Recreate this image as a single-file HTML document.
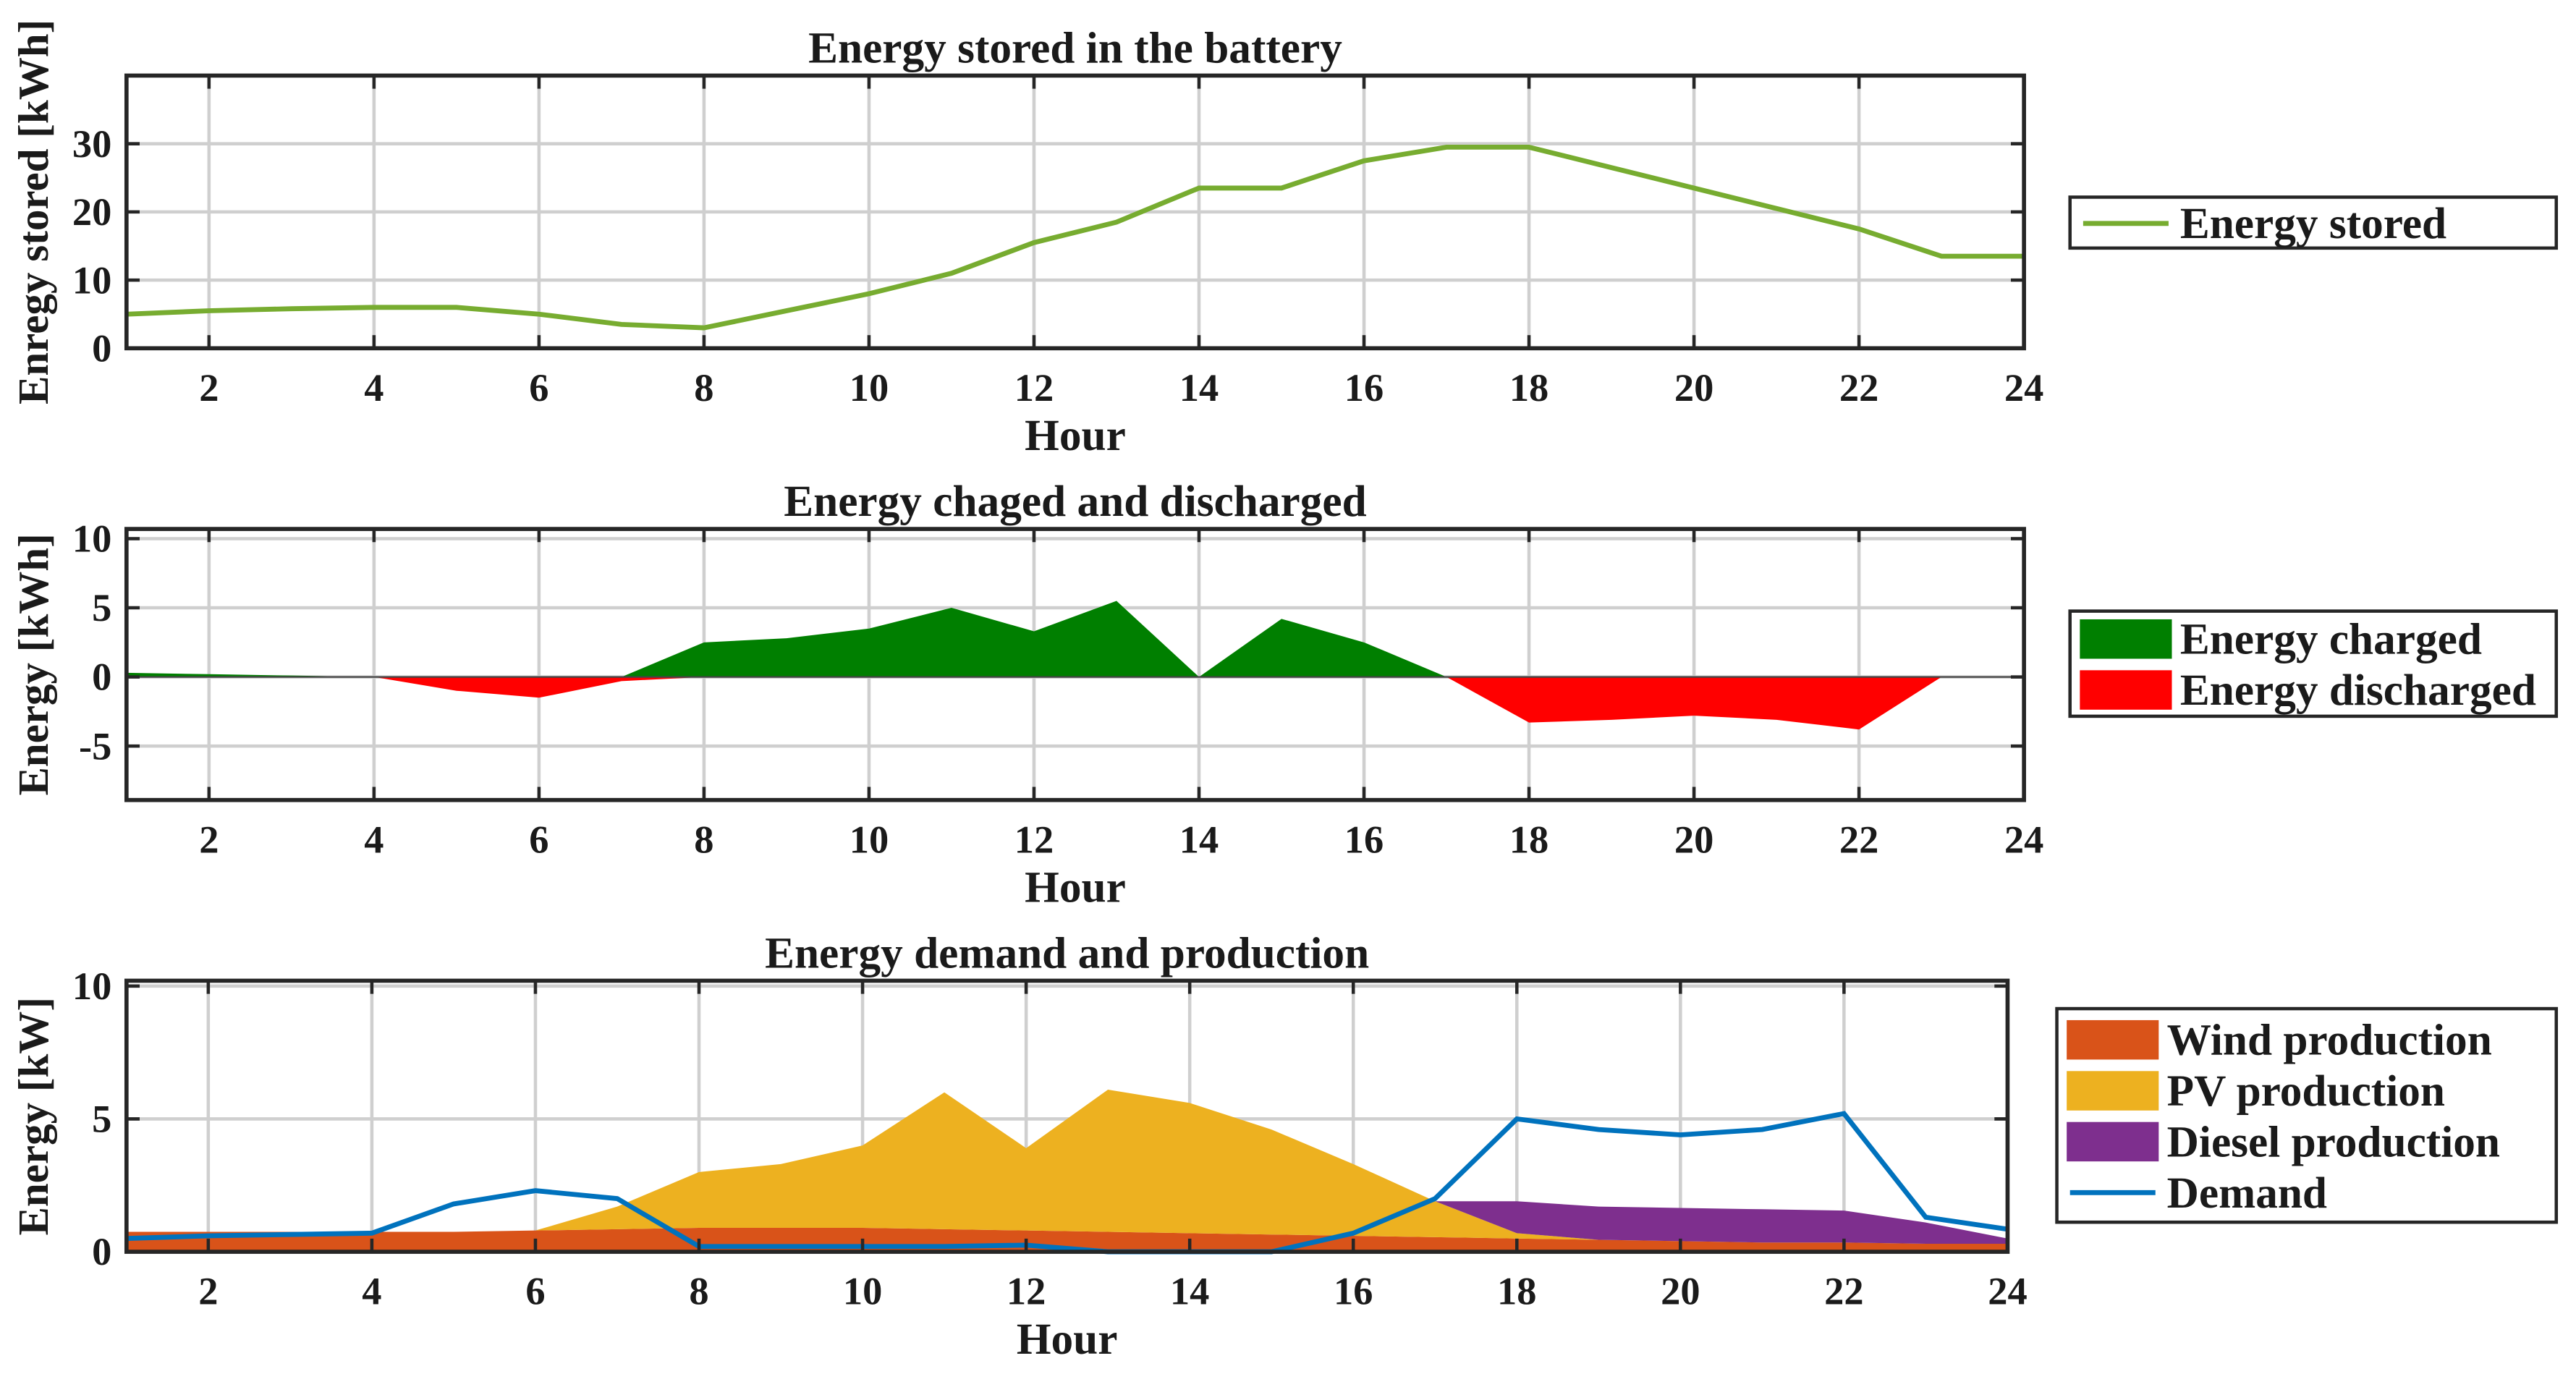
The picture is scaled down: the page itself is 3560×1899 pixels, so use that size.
<!DOCTYPE html>
<html><head><meta charset="utf-8"><style>
html,body{margin:0;padding:0;background:#fff}
svg{display:block}
text{font-family:"Liberation Serif",serif;font-weight:bold;fill:#1a1a1a}
</style></head><body>
<svg id="chart" width="3560" height="1899" viewBox="0 0 1568 836.4" xmlns="http://www.w3.org/2000/svg"></svg>
<script>
const hours = [1,2,3,4,5,6,7,8,9,10,11,12,13,14,15,16,17,18,19,20,21,22,23,24];
const storedValues = [5,5.5,5.8,6,6,5,3.5,3,5.5,8,11,15.5,18.5,23.5,23.5,27.5,29.5,29.5,26.5,23.5,20.5,17.5,13.5,13.5];
const chargedValues = [0.3,0.2,0.1,0,0,0,0,2.5,2.8,3.5,5,3.3,5.5,0,4.2,2.5,0,0,0,0,0,0,0,0];
const dischargedValues = [0,0,0,0,-1,-1.5,-0.3,0,0,0,0,0,0,0,0,0,0,-3.3,-3.1,-2.8,-3.1,-3.8,0,0];
const windValues = [0.75,0.75,0.75,0.75,0.75,0.8,0.85,0.9,0.9,0.9,0.85,0.8,0.75,0.7,0.65,0.6,0.55,0.5,0.45,0.4,0.35,0.35,0.3,0.3];
const pvValues = [0,0,0,0,0,0,0.85,2.1,2.4,3.1,5.15,3.1,5.35,4.9,3.95,2.7,1.35,0.2,0,0,0,0,0,0];
const dieselValues = [0,0,0,0,0,0,0,0,0,0,0,0,0,0,0,0,0,1.2,1.25,1.25,1.25,1.2,0.8,0.2];
const demandValues = [0.5,0.6,0.65,0.7,1.8,2.3,2.0,0.2,0.2,0.2,0.2,0.25,0,0,0,0.7,2.0,5.0,4.6,4.4,4.6,5.2,1.3,0.85];
const xTicks = [2,4,6,8,10,12,14,16,18,20,22,24];
const yTicks1 = [0,10,20,30];
const yTicks2 = [-5,0,5,10];
const yTicks3 = [0,5,10];

const svg = document.getElementById('chart');
const NS = 'http://www.w3.org/2000/svg';
function mk(tag, attrs, parent){const e=document.createElementNS(NS,tag);for(const k in attrs)e.setAttribute(k,attrs[k]);(parent||svg).appendChild(e);return e;}

function panel(p){
  const g = mk('g',{});
  
  
  const sx = v => p.x0 + (v-1)/(23)*(p.x1-p.x0);
  const sy = v => p.y1 - (v-p.ymin)/(p.ymax-p.ymin)*(p.y1-p.y0);
  xTicks.forEach(t=>{ if(t<24) mk('line',{x1:sx(t),x2:sx(t),y1:p.y0,y2:p.y1,stroke:'#cfcfcf','stroke-width':2},g);});
  p.yt.forEach(t=>{ mk('line',{x1:p.x0,x2:p.x1,y1:sy(t),y2:sy(t),stroke:'#cfcfcf','stroke-width':2},g);});
  p.draw(g,sx,sy);
  xTicks.forEach(t=>{
    mk('line',{x1:sx(t),x2:sx(t),y1:p.y1,y2:p.y1-8,stroke:'#262626','stroke-width':2},g);
    mk('line',{x1:sx(t),x2:sx(t),y1:p.y0,y2:p.y0+8,stroke:'#262626','stroke-width':2},g);
    const tx = mk('text',{x:sx(t),y:p.y1+32,'text-anchor':'middle','font-size':24},g);
    tx.textContent=t;
    
    
  });
  p.yt.forEach(t=>{
    mk('line',{x1:p.x0,x2:p.x0+8,y1:sy(t),y2:sy(t),stroke:'#262626','stroke-width':2},g);
    mk('line',{x1:p.x1,x2:p.x1-8,y1:sy(t),y2:sy(t),stroke:'#262626','stroke-width':2},g);
    const ty = mk('text',{x:p.x0-9,y:sy(t)+8,'text-anchor':'end','font-size':24},g);
    ty.textContent=t;
    
    
  });
  mk('rect',{x:p.x0,y:p.y0,width:p.x1-p.x0,height:p.y1-p.y0,fill:'none',stroke:'#262626','stroke-width':2.5},g);
  const tt = mk('text',{x:(p.x0+p.x1)/2+(p.tdx||0),y:p.y0-8,'text-anchor':'middle','font-size':27},g);
  tt.textContent=p.title;
  
  
  const xl = mk('text',{x:(p.x0+p.x1)/2,y:p.y1+62,'text-anchor':'middle','font-size':27},g);
  xl.textContent='Hour';
  
  
  const yc=(p.y0+p.y1)/2;
  const yl = mk('text',{x:0,y:0,'text-anchor':'middle','font-size':26,transform:`translate(29,${yc}) rotate(-90)`},g);
  yl.textContent=p.ylabel;
  
  
  const L=p.leg;
  const lb = mk('rect',{x:L.x,y:L.y,width:L.w,height:L.h,fill:'#fff',stroke:'#262626','stroke-width':2},g);
  
  
  L.items.forEach((it,i)=>{
    const cy=L.y+L.pad+i*L.step;
    if(it.type==='line') mk('line',{x1:L.x+8,x2:L.x+60,y1:cy,y2:cy,stroke:it.c,'stroke-width':3},g);
    else mk('rect',{x:L.x+6,y:cy-12,width:56,height:24,fill:it.c},g);
    const lt=mk('text',{x:L.x+67,y:cy+9,'font-size':27},g);
    lt.textContent=it.t;
    
    
  });
}
function areaPath(sx,sy,bottom,top){
  let d='M'+sx(hours[0])+','+sy(bottom[0]);
  hours.forEach((h,i)=>{d+=' L'+sx(h)+','+sy(top[i]);});
  for(let i=hours.length-1;i>=0;i--) d+=' L'+sx(hours[i])+','+sy(bottom[i]);
  return d+'Z';
}
function linePath(sx,sy,vals){return hours.map((h,i)=>(i?'L':'M')+sx(h)+','+sy(vals[i])).join(' ');}

panel({name:'battery-panel',x0:77,x1:1232,y0:46,y1:212,ymin:0,ymax:40,yt:yTicks1,
  title:'Energy stored in the battery',ylabel:'Enregy stored [kWh]',
  leg:{x:1260,y:120,w:296,h:31,pad:16,step:32,items:[{type:'line',c:'#77ac30',t:'Energy stored'}]},
  draw:(g,sx,sy)=>{const l=mk('path',{d:linePath(sx,sy,storedValues),fill:'none',stroke:'#77ac30','stroke-width':3},g);
    }});

panel({name:'charge-panel',x0:77,x1:1232,y0:322,y1:487,ymin:-8.9,ymax:10.7,yt:yTicks2,
  title:'Energy chaged and discharged',ylabel:'Energy [kWh]',
  leg:{x:1260,y:372,w:296,h:64,pad:17,step:31,items:[{type:'rect',c:'#007f00',t:'Energy charged'},{type:'rect',c:'#ff0000',t:'Energy discharged'}]},
  draw:(g,sx,sy)=>{const z=hours.map(()=>0);
    const a=mk('path',{d:areaPath(sx,sy,z,chargedValues),fill:'#007f00'},g);
    
    const b=mk('path',{d:areaPath(sx,sy,z,dischargedValues),fill:'#ff0000'},g);
    
    mk('line',{x1:sx(1),x2:sx(24),y1:sy(0),y2:sy(0),stroke:'#444','stroke-width':1},g);}});

panel({name:'demand-panel',x0:77,x1:1222,y0:597,y1:762,ymin:0,ymax:10.2,yt:yTicks3,
  title:'Energy demand and production',ylabel:'Energy [kW]',
  leg:{x:1252,y:614,w:304,h:130,pad:19,step:31,items:[{type:'rect',c:'#d95319',t:'Wind production'},{type:'rect',c:'#edb120',t:'PV production'},{type:'rect',c:'#7e2f8e',t:'Diesel production'},{type:'line',c:'#0072bd',t:'Demand'}]},
  draw:(g,sx,sy)=>{const z=hours.map(()=>0);
    const t1=windValues, t2=windValues.map((v,i)=>v+pvValues[i]), t3=t2.map((v,i)=>v+dieselValues[i]);
    const a=mk('path',{d:areaPath(sx,sy,z,t1),fill:'#d95319'},g);
    const b=mk('path',{d:areaPath(sx,sy,t1,t2),fill:'#edb120'},g);
    const c=mk('path',{d:areaPath(sx,sy,t2,t3),fill:'#7e2f8e'},g);
    const l=mk('path',{d:linePath(sx,sy,demandValues),fill:'none',stroke:'#0072bd','stroke-width':3},g);
    }});
</script>
</body></html>
